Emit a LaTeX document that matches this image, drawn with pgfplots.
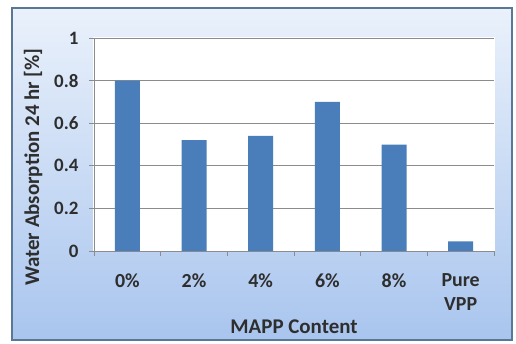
\documentclass[border=0pt]{standalone}
\usepackage{fontspec}
\setmainfont{Carlito}
\usepackage{pgfplots}
\pgfplotsset{compat=1.18}
\definecolor{barblue}{HTML}{4A7EBB}
\definecolor{bgtop}{HTML}{EAF1FB}
\definecolor{bgbottom}{HTML}{A9C5EE}
\definecolor{frame}{HTML}{5A7896}
\definecolor{gridgray}{HTML}{8C8C8C}
\definecolor{labelgray}{HTML}{2E2E2E}
\begin{document}
\begin{tikzpicture}[x=1bp,y=1bp]
\useasboundingbox (0,0) rectangle (516,343);
% chart area with gradient fill and frame
\shade[top color=bgtop, bottom color=bgbottom] (12,3) rectangle (512,335);
\draw[frame, line width=1.6bp] (12,3) rectangle (512,335);
% plot area
\fill[white] (93,92) rectangle (495,306);
\begin{axis}[
  at={(94bp,92bp)}, anchor=south west,
  scale only axis,
  width=400bp, height=213bp,
  xmin=-0.5, xmax=5.5,
  ymin=0, ymax=1,
  ytick={0,0.2,...,1},
  yticklabel style={/pgf/number format/fixed, /pgf/number format/precision=1},
  /pgf/number format/assume math mode=true,
  xtick={0,...,5},
  xticklabels={0\%,2\%,4\%,6\%,8\%,Pure\\VPP},
  xticklabel style={align=center, font=\fontsize{20}{24}\selectfont\bfseries, text=labelgray, yshift=-14bp},
  yticklabel style={font=\fontsize{19}{21}\selectfont\bfseries, text=labelgray, xshift=-7bp},
  minor xtick={-0.5,0.5,...,5.5},
  major x tick style={draw=none},
  minor tick length=5bp,
  major tick length=5bp,
  tick align=outside,
  xtick pos=bottom, ytick pos=left,
  ymajorgrids,
  grid style={gridgray, line width=0.8bp},
  tick style={gridgray, line width=0.8bp},
  axis x line*=bottom, axis y line*=left,
  axis line style={gridgray, line width=0.8bp, -},
  xlabel={MAPP Content},
  ylabel={Water Absorption 24 hr [\%]},
  label style={font=\fontsize{21}{23}\selectfont\bfseries, text=labelgray},
  xlabel style={at={(axis description cs:0.5,-0.357)}, anchor=center},
  ylabel style={at={(axis description cs:-0.152,0.394)}, anchor=center},
  ybar, bar width=25bp,
]
\addplot[fill=barblue, draw=none] coordinates {
  (0,0.80) (1,0.52) (2,0.54) (3,0.70) (4,0.50) (5,0.045)
};
\end{axis}
\end{tikzpicture}
\end{document}
